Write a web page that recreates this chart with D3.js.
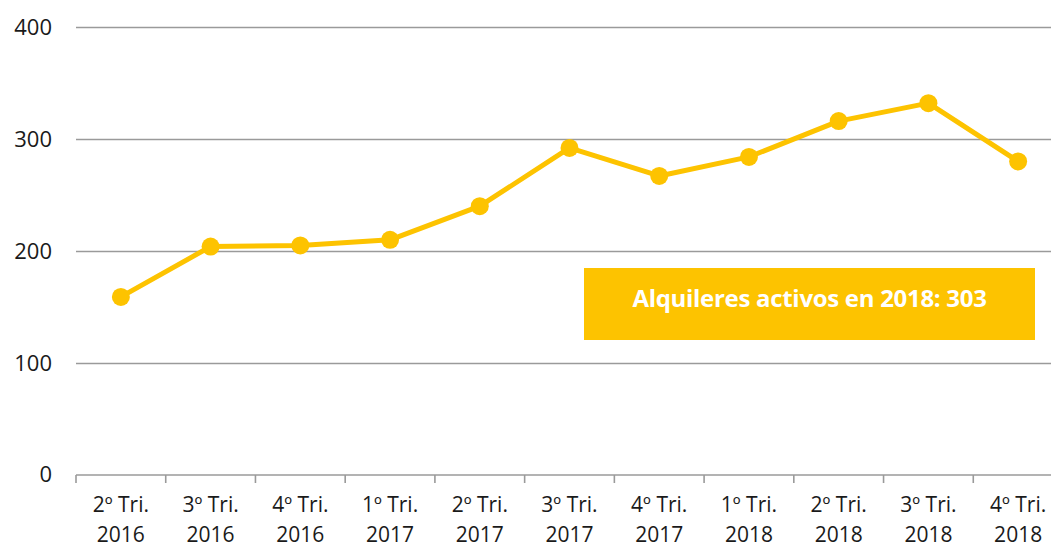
<!DOCTYPE html>
<html>
<head>
<meta charset="utf-8">
<script src="https://cdn.jsdelivr.net/npm/d3@7"></script>
<style>
  body { margin: 0; background: #fff; overflow: hidden; }
  text { font-family: "Open Sans", "Noto Sans", sans-serif; fill: #1a1a1a; }
</style>
</head>
<body>
<div id="chart"></div>
<script>
const quarters = ["2º Tri.", "3º Tri.", "4º Tri.", "1º Tri.", "2º Tri.", "3º Tri.", "4º Tri.", "1º Tri.", "2º Tri.", "3º Tri.", "4º Tri."]
const years = ["2016", "2016", "2016", "2017", "2017", "2017", "2017", "2018", "2018", "2018", "2018"]
const values = [159, 204, 205, 210, 240, 292, 267, 284, 316, 332, 280]
const yTicks = [0, 100, 200, 300, 400]
const boxLabel = "Alquileres activos en 2018: 303"

// the plot runs a bit past the right edge of the window, like the original
const margin = { left: 76, top: 27, bottom: 75 }
const width = 987
const height = 550 - margin.top - margin.bottom
const yellow = "#fdc300"

const svg = d3.select("#chart")
    .append("svg")
    .attr("width", 1051)
    .attr("height", 550)
    .append("g")
    .attr("transform", "translate(" + margin.left + "," + margin.top + ")")

const idx = d3.range(values.length)

const x = d3.scaleBand()
    .domain(idx)
    .range([0, width])

const y = d3.scaleLinear()
    .domain([0, 400])
    .range([height, 0])

// gridlines + y labels
const yAxis = svg.append("g")
    .call(d3.axisLeft(y).tickValues(yTicks.slice(1)).tickSize(-width).tickFormat(d => d))
yAxis.select(".domain").remove()
yAxis.selectAll(".tick line").attr("stroke", "#9a9a9a").attr("stroke-width", 1.6)
yAxis.selectAll(".tick text").attr("x", -24).style("font-size", "22px")

// zero label
svg.append("text")
    .attr("x", -24)
    .attr("y", y(0))
    .attr("dy", "0.32em")
    .attr("text-anchor", "end")
    .style("font-size", "22px")
    .text(yTicks[0])

// x axis
const xAxis = svg.append("g")
    .attr("transform", `translate(0,${height})`)
    .call(d3.axisBottom(x).tickSize(0).tickFormat(""))
xAxis.select(".domain").attr("stroke", "#9a9a9a").attr("stroke-width", 1.6)
    .attr("d", `M0,0H${width}`)

// tick marks at band boundaries
svg.append("g")
    .selectAll("line")
    .data(idx)
    .join("line")
    .attr("x1", d => x(d))
    .attr("x2", d => x(d))
    .attr("y1", height)
    .attr("y2", height + 8)
    .attr("stroke", "#9a9a9a")
    .attr("stroke-width", 1.6)

const labels = svg.append("g")
    .selectAll("text")
    .data(idx)
    .join("text")
    .attr("text-anchor", "middle")
    .style("font-size", "21px")
    .attr("transform", d => `translate(${x(d) + x.bandwidth() / 2},${height})`)
labels.append("tspan").attr("x", 0).attr("y", 37).text(d => quarters[d])
labels.append("tspan").attr("x", 0).attr("y", 67).text(d => years[d])

// line
svg.append("path")
    .datum(idx)
    .attr("fill", "none")
    .attr("stroke", yellow)
    .attr("stroke-width", 5)
    .attr("stroke-linejoin", "round")
    .attr("d", d3.line()
        .x(d => x(d) + x.bandwidth() / 2)
        .y(d => y(values[d]))
    )

svg.append("g")
    .selectAll("circle")
    .data(idx)
    .join("circle")
    .attr("cx", d => x(d) + x.bandwidth() / 2)
    .attr("cy", d => y(values[d]))
    .attr("r", 9)
    .attr("fill", yellow)

// annotation box
const bx = 584 - margin.left, by = 268 - margin.top
svg.append("rect")
    .attr("x", bx)
    .attr("y", by)
    .attr("width", 451)
    .attr("height", 72)
    .attr("fill", yellow)

svg.append("text")
    .attr("x", bx + 451 / 2)
    .attr("y", by + 39)
    .attr("text-anchor", "middle")
    .style("font-size", "24px")
    .style("font-weight", "bold")
    .style("letter-spacing", "-0.3px")
    .style("fill", "#fff")
    .text(boxLabel)
</script>
</body>
</html>
